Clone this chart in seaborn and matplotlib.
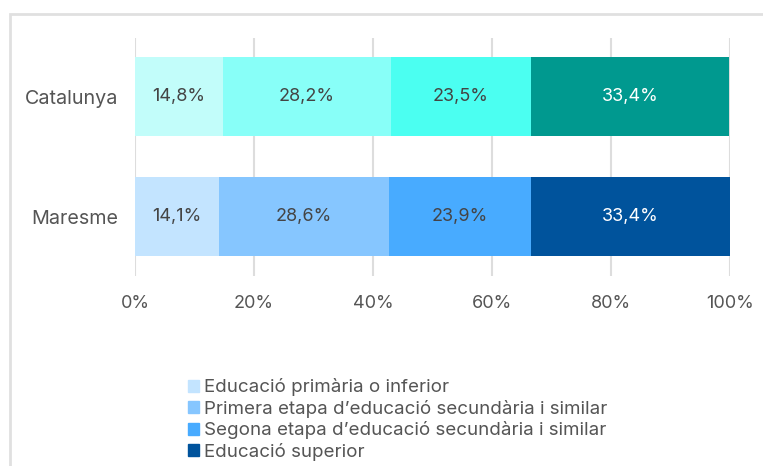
import matplotlib
matplotlib.use("Agg")
import matplotlib.pyplot as plt
import matplotlib.patches as mpatches
import numpy as np
import pandas as pd
import seaborn as sns

# data
regions = ["Catalunya", "Maresme"]
levels = [
    "Educació primària o inferior",
    "Primera etapa d\u2019educació secundària i similar",
    "Segona etapa d\u2019educació secundària i similar",
    "Educació superior",
]
catalunya = [14.8, 28.2, 23.5, 33.4]
maresme = [14.1, 28.6, 23.9, 33.4]
tick_values = [0, 20, 40, 60, 80, 100]

cat_colors = ["#C2FDFA", "#88FFF8", "#4BFFF1", "#00998F"]
mar_colors = ["#C3E4FF", "#86C6FF", "#48ABFF", "#00539C"]
text_colors = ["#444444", "#444444", "#444444", "#FFFFFF"]

sns.set_style("white")
font = ["Inter", "DejaVu Sans"]

fig = plt.figure(figsize=(7.63, 4.66), dpi=100)
ax = fig.add_axes([135 / 763, 1 - 276 / 466, (730 - 135) / 763, (276 - 38) / 466])

vals = np.array([catalunya, maresme])
cum = vals.cumsum(axis=1)

# draw stacked bars back to front
for i in range(len(levels) - 1, -1, -1):
    df = pd.DataFrame({"region": regions, "value": cum[:, i]})
    sns.barplot(data=df, x="value", y="region", hue="region",
                palette=[cat_colors[i], mar_colors[i]], legend=False,
                width=0.66, saturation=1, ax=ax, orient="h", zorder=2,
                linewidth=0, edgecolor="none")

# segment labels
for r in range(len(regions)):
    start = 0
    for i in range(len(levels)):
        v = vals[r, i]
        ax.text(start + v / 2, r, f"{v:.1f}%".replace(".", ","),
                ha="center", va="center", color=text_colors[i],
                fontsize=13, family=font, zorder=3)
        start += v

ax.set_xlim(0, 100)
ax.set_ylim(1 + 59.5 / 120, -58.5 / 120)
ax.set_xticks(tick_values)
ax.set_xticklabels([f"{t}%" for t in tick_values], family=font,
                   fontsize=13, color="#555555")
ax.set_yticks(range(len(regions)))
ax.set_yticklabels(regions, family=font, fontsize=14.2, color="#555555")
ax.tick_params(axis="both", length=0)
ax.tick_params(axis="x", pad=14)
ax.tick_params(axis="y", pad=12)
ax.set_xlabel("")
ax.set_ylabel("")
for s in ax.spines.values():
    s.set_visible(False)
ax.grid(False)
for t in tick_values:
    ax.axvline(t, color="#DDDDDD", lw=1.5, zorder=1)

# outer border
fig.patches.append(mpatches.Rectangle((10 / 763, -0.1), 1.2, 1 - 14 / 466 + 0.1,
                                      transform=fig.transFigure, fill=False,
                                      edgecolor="#E0E0E0", lw=2))

handles = [mpatches.Patch(color=c, label=l) for c, l in zip(mar_colors, levels)]
fig.legend(handles=handles, loc="upper left", bbox_to_anchor=(180 / 763, 1 - 371 / 466),
           frameon=False, prop={"family": font, "size": 13.5},
           labelcolor="#555555", handlelength=0.6, handleheight=0.6,
           handletextpad=0.3, labelspacing=0.18, borderaxespad=0)

fig.savefig("out.png", dpi=100)
